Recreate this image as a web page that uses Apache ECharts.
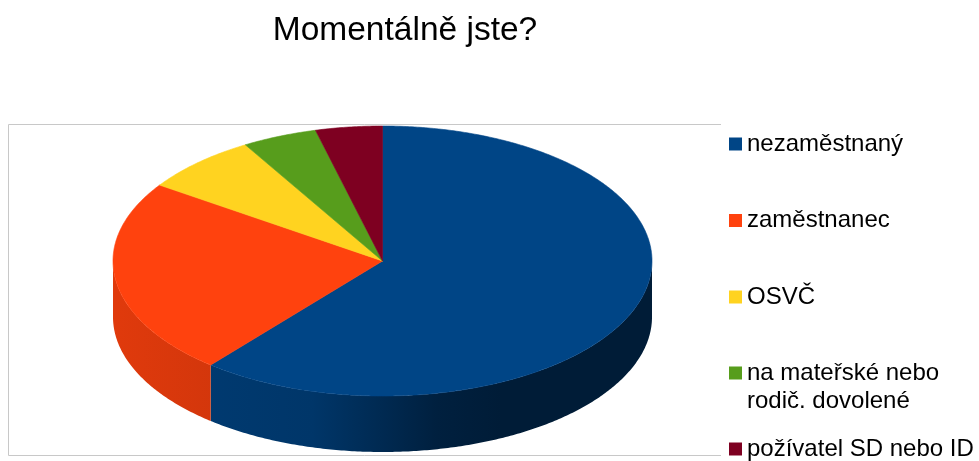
<!DOCTYPE html>
<html>
<head>
<meta charset="utf-8">
<script src="https://cdn.jsdelivr.net/npm/echarts@6/dist/echarts.min.js"></script>
<style>
  html, body { margin: 0; padding: 0; background: #fff; }
  #chart { width: 979px; height: 461px; }
</style>
</head>
<body>
<div id="chart"></div>
<script>
// data (approx. share in %)
const categories = ['nezaměstnaný', 'zaměstnanec', 'OSVČ', 'na mateřské nebo\nrodič. dovolené', 'požívatel SD nebo ID']
const values = [61, 23.5, 7, 4.5, 4]
const colors = ['#004586', '#ff420e', '#ffd320', '#579d1c', '#7e0021']
const titleText = 'Momentálně jste?'

// pie layout (pseudo 3D ellipse)
const CX = 382.5, CY = 261, RX = 269.5, RY = 135, DEPTH = 56
const FONT = 'Liberation Sans, Arial, sans-serif'
const total = values.reduce((s, v) => s + v, 0)

function shade(hex, f) {
  const n = parseInt(hex.slice(1), 16)
  const r = Math.round(((n >> 16) & 255) * f)
  const g = Math.round(((n >> 8) & 255) * f)
  const b = Math.round((n & 255) * f)
  return 'rgb(' + r + ',' + g + ',' + b + ')'
}

function pt(t, dy) {
  return [CX + RX * Math.sin(t), CY - RY * Math.cos(t) + dy]
}

function arc(a, b, dy) {
  const n = Math.max(2, Math.ceil((b - a) / 0.01))
  const pts = []
  for (let i = 0; i <= n; i++) pts.push(pt(a + (b - a) * i / n, dy))
  return pts
}

function renderSlice(params, api) {
  const i = params.seriesIndex
  const before = values.slice(0, i).reduce((s, v) => s + v, 0)
  const a = before / total * Math.PI * 2
  const b = (before + api.value(0)) / total * Math.PI * 2
  const c = colors[i]
  const children = []
  // visible side wall (front half only)
  const lo = Math.max(a, Math.PI / 2)
  const hi = Math.min(b, Math.PI * 1.5)
  if (lo < hi) {
    const pts = arc(lo, hi, 0).concat(arc(lo, hi, DEPTH).reverse())
    children.push({
      type: 'polygon',
      z2: 1,
      shape: { points: pts },
      style: {
        fill: {
          type: 'linear', x: CX - RX, y: 0, x2: CX + RX, y2: 0, global: true,
          colorStops: [
            { offset: 0, color: shade(c, 0.88) },
            { offset: 0.37, color: shade(c, 0.78) },
            { offset: 0.6, color: shade(c, 0.47) },
            { offset: 0.72, color: shade(c, 0.41) },
            { offset: 1, color: shade(c, 0.41) }
          ]
        }
      }
    })
  }
  // top face
  children.push({
    type: 'polygon',
    z2: 2,
    shape: { points: [[CX, CY]].concat(arc(a, b, 0)) },
    style: { fill: c, stroke: c, lineWidth: 0.6 }
  })
  return { type: 'group', children: children }
}

const legendCenters = [144, 220.5, 297, 373, 449]

const chart = echarts.init(document.getElementById('chart'))
chart.setOption({
  animation: false,
  graphic: [
    {
      type: 'text',
      x: 405,
      y: 31,
      style: {
        text: titleText, fontSize: 33.5, fontFamily: FONT, fill: '#000',
        align: 'center', verticalAlign: 'middle', textAlign: 'center', textVerticalAlign: 'middle'
      }
    },
    {
      type: 'polyline',
      z: -1,
      shape: { points: [[721, 124.5], [8.5, 124.5], [8.5, 455.5], [721, 455.5]] },
      style: { stroke: '#c8c8c8', fill: null, lineWidth: 1 }
    }
  ],
  legend: categories.map((name, i) => {
    const twoLines = name.indexOf('\n') >= 0
    return {
      data: [name],
      orient: 'vertical',
      left: 729,
      top: legendCenters[i] - (twoLines ? 42 : 14),
      padding: 0,
      icon: 'rect',
      itemWidth: 13,
      itemHeight: 13,
      selectedMode: false,
      // empty first line keeps the icon level with the first text line
      formatter: twoLines ? (n => '\n' + n) : null,
      textStyle: { fontSize: 24, fontFamily: FONT, color: '#000', lineHeight: 28 }
    }
  }),
  series: categories.map((name, i) => ({
    type: 'custom',
    name: name,
    coordinateSystem: 'none',
    itemStyle: { color: colors[i] },
    renderItem: renderSlice,
    data: [values[i]]
  }))
})
</script>
</body>
</html>
